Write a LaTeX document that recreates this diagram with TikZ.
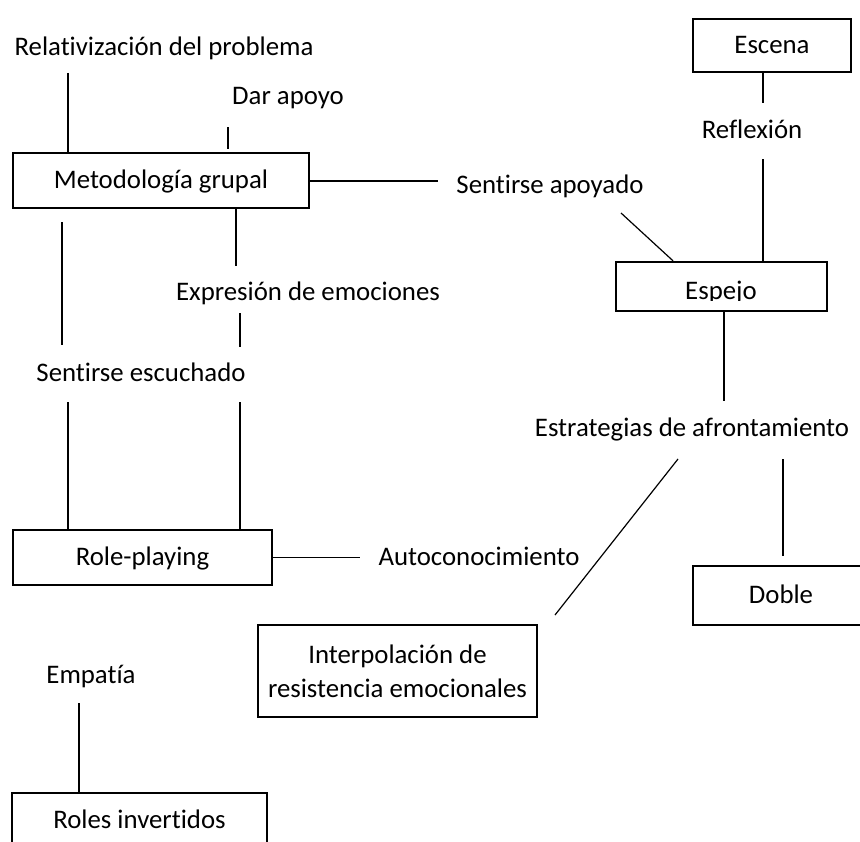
\documentclass[tikz,border=0pt]{standalone}
\usepackage{fontspec}
\setmainfont{Carlito}[Ligatures=NoCommon]

\begin{document}
\begin{tikzpicture}[x=0.75pt,y=-0.75pt,
  font=\fontsize{20.1}{25.5}\selectfont,
  lbl/.style={inner sep=0pt, text height=12.7pt, text depth=0pt},
  thinbox/.style={draw, line width=1pt},
  thickbox/.style={draw, line width=1.8pt},
  link/.style={line width=0.9pt}]

\useasboundingbox (0,0) rectangle (860,842);
\clip (0,0) rectangle (860,842);

% left column
\node[lbl] (relat) at (164,47) {Relativización del problema};
\node[lbl] (dar) at (288,96) {Dar apoyo};
\node[thinbox,lbl,minimum width=222pt,minimum height=41.25pt] (meto) at (161,180.5) {Metodología grupal};
\node[lbl] (sapo) at (550,185) {Sentirse apoyado};
\node[lbl] (expr) at (308,292) {Expresión de emociones};
\node[lbl] (sesc) at (141,373.5) {Sentirse escuchado};
\node[thickbox,lbl,minimum width=194.25pt,minimum height=41.25pt] (role) at (142.5,557.5) {Role-playing};
\node[lbl] (auto) at (479,557.5) {Autoconocimiento};
\node[lbl] (emp) at (91,675) {Empatía};
\node[thickbox,lbl,minimum width=191.25pt,minimum height=40.5pt] (roles) at (139.5,820) {Roles invertidos};

% right column
\node[thickbox,lbl,minimum width=118.5pt,minimum height=39.75pt] (escena) at (772,45.5) {Escena};
\node[lbl] (refl) at (752,130.5) {Reflexión};
\node[thickbox,minimum width=158.25pt,minimum height=36.75pt] (espejo) at (721.5,286.5) {};
\begin{scope}
\clip (espejo.north west) rectangle (espejo.east |- 0,300);
\node[lbl] (espejotxt) at (721,291) {Espejo};
\end{scope}
\node[lbl] (estr) at (692,428.5) {Estrategias de afrontamiento};
\node[thinbox,lbl,minimum width=132pt,minimum height=44.25pt] (doble) at (781,595.5) {Doble};
\node[thinbox,align=center,minimum width=209.25pt,minimum height=69pt] (interp) at (397.5,671) {Interpolación de\\resistencia emocionales};

% free ends of the connectors
\coordinate (relatend) at (68,73);
\coordinate (dartop) at (228,127);
\coordinate (darbot) at (228,149);
\coordinate (sapoend) at (438,181);
\coordinate (exprtop) at (236,266);
\coordinate (exprbot) at (240,313);
\coordinate (exprlow) at (240,347);
\coordinate (rolehigh) at (240,402);
\coordinate (sesctop) at (62,222);
\coordinate (sescbot) at (62,345);
\coordinate (sesclow) at (68,402);
\coordinate (autoend) at (360,557.5);
\coordinate (escenaend) at (763,103);
\coordinate (reflend) at (763,159);
\coordinate (sapodiag) at (621,213);
\coordinate (espejodiag) at (673,262);
\coordinate (espejoend) at (724,401);
\coordinate (estrleft) at (678,459);
\coordinate (interpend) at (555,615);
\coordinate (estrright) at (783,459);
\coordinate (dobleend) at (783,556);
\coordinate (empend) at (79,703);

\draw[link] (relatend) -- (relatend |- meto.north);
\draw[link] (dartop) -- (darbot);
\draw[link] (meto.east |- sapoend) -- (sapoend);
\draw[link] (exprtop |- meto.south) -- (exprtop);
\draw[link] (exprbot) -- (exprlow);
\draw[link] (rolehigh) -- (rolehigh |- role.north);
\draw[link] (sesctop) -- (sescbot);
\draw[link] (sesclow) -- (sesclow |- role.north);
\draw[link] (role.east) -- (autoend);
\draw[link] (escenaend |- escena.south) -- (escenaend);
\draw[link] (reflend) -- (reflend |- espejo.north);
\draw[link] (sapodiag) -- (espejodiag |- espejo.north);
\draw[link] (espejoend |- espejo.south) -- (espejoend);
\draw[link] (estrleft) -- (interpend);
\draw[link] (estrright) -- (dobleend);
\draw[link] (empend) -- (empend |- roles.north);

\end{tikzpicture}
\end{document}
